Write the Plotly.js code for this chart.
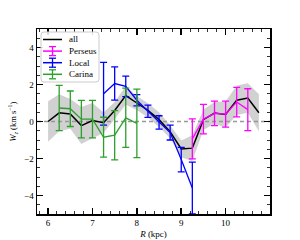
<!DOCTYPE html>
<html><head><meta charset="utf-8">
<script src="https://cdn.plot.ly/plotly-3.0.1.min.js"></script>
<style>html,body{margin:0;padding:0;background:#fff}#c{width:300px;height:240px}</style>
</head><body><div id="c"></div>
<script>
const allR = [6.0,6.25,6.5,6.75,7.0,7.25,7.5,7.75,8.0,8.25,8.5,8.75,9.0,9.25,9.5,9.75,10.0,10.25,10.5,10.75];
const allW = [0.0,0.47,0.41,-0.22,0.05,-0.07,0.6,1.4,1.0,0.6,0.1,-0.55,-1.48,-1.44,0.1,0.46,0.38,1.15,1.27,0.47];
const allSd = [1.1,1.0,0.8,1.0,0.95,0.55,0.45,0.5,0.38,0.38,0.4,0.35,0.45,0.7,0.55,0.6,0.7,0.8,0.8,1.0];

const perseusR = [9.25,9.5,9.75,10.0,10.25,10.5];
const perseusW = [-0.94,0.13,0.44,0.4,1.05,0.64];
const perseusErr = [1.08,0.8,0.66,0.7,0.8,1.13];

const localR = [7.25,7.5,7.75,8.0,8.25,8.5,8.75,9.0,9.25];
const localW = [1.5,2.05,1.9,1.15,0.55,-0.05,-0.6,-2.06,-3.6];
const localErr = [1.7,0.9,0.55,0.3,0.33,0.36,0.4,0.66,1.4];

const carinaR = [6.25,6.5,6.75,7.0,7.25,7.5,7.75,8.0];
const carinaW = [0.73,0.69,0.13,0.13,-0.85,-0.74,0.2,-0.1];
const carinaErr = [1.22,0.96,1.01,1.01,1.08,1.33,1.6,1.85];

const legendNames = ['all','Perseus','Local','Carina'];
const legendColors = ['black','#ff00ff','#0000ff','#2ca02c'];
const legendHasErr = [false,true,true,true];

const upper = allW.map((v,i)=>v+allSd[i]);
const lower = allW.map((v,i)=>v-allSd[i]);
const bandX = allR.concat(allR.slice().reverse());
const bandY = upper.concat(lower.slice().reverse());

const serif = "Liberation Serif, DejaVu Serif, serif";
function errTrace(name, x, y, e, col){
  return {x:x, y:y, name:name, type:'scatter', mode:'lines', showlegend:false,
    line:{color:col, width:1.3},
    error_y:{type:'data', array:e, visible:true, color:col, thickness:1.3, width:3.5}};
}
const traces = [
  {x:bandX, y:bandY, type:'scatter', mode:'lines', fill:'toself', fillcolor:'rgba(190,190,190,0.7)',
   line:{width:0}, showlegend:false, hoverinfo:'skip'},
  {x:[5.75,11.0], y:[0,0], type:'scatter', mode:'lines', line:{color:'#999', width:1.3, dash:'4px,3px'}, showlegend:false},
  {x:allR, y:allW, name:'all', type:'scatter', mode:'lines', showlegend:false, line:{color:'black', width:1.5}},
  errTrace('Perseus', perseusR, perseusW, perseusErr, legendColors[1]),
  errTrace('Local', localR, localW, localErr, legendColors[2]),
  errTrace('Carina', carinaR, carinaW, carinaErr, legendColors[3])
];

// custom compact legend (matplotlib style) in plot-area paper coords
const L=37, T=29, PW=233, PH=185;
const px = x => (x-L)/PW, py = y => (T+PH-y)/PH;
const shapes = [];
const annotations = [];
const bx0=41, bx1=99, by0=32, by1=82, r=3;
shapes.push({type:'path', xref:'paper', yref:'paper', layer:'above',
  path:`M${px(bx0+r)},${py(by0)} L${px(bx1-r)},${py(by0)} Q${px(bx1)},${py(by0)} ${px(bx1)},${py(by0+r)} L${px(bx1)},${py(by1-r)} Q${px(bx1)},${py(by1)} ${px(bx1-r)},${py(by1)} L${px(bx0+r)},${py(by1)} Q${px(bx0)},${py(by1)} ${px(bx0)},${py(by1-r)} L${px(bx0)},${py(by0+r)} Q${px(bx0)},${py(by0)} ${px(bx0+r)},${py(by0)} Z`,
  fillcolor:'rgba(255,255,255,0.85)', line:{color:'#cccccc', width:1}});
legendNames.forEach((n,i)=>{
  const yc = 39.5 + i*11.6;
  const col = legendColors[i];
  shapes.push({type:'line', xref:'paper', yref:'paper', layer:'above', x0:px(43), x1:px(62), y0:py(yc), y1:py(yc), line:{color:col, width:1.5}});
  if (legendHasErr[i]) {
    shapes.push({type:'line', xref:'paper', yref:'paper', layer:'above', x0:px(52.5), x1:px(52.5), y0:py(yc-4.5), y1:py(yc+4.5), line:{color:col, width:1.3}});
    shapes.push({type:'line', xref:'paper', yref:'paper', layer:'above', x0:px(49), x1:px(56), y0:py(yc-4.5), y1:py(yc-4.5), line:{color:col, width:1.3}});
    shapes.push({type:'line', xref:'paper', yref:'paper', layer:'above', x0:px(49), x1:px(56), y0:py(yc+4.5), y1:py(yc+4.5), line:{color:col, width:1.3}});
  }
  annotations.push({text:n, xref:'paper', yref:'paper', x:px(67), y:py(yc), xanchor:'left', yanchor:'middle',
    showarrow:false, font:{family:serif, size:9, color:'black'}});
});

const axBase = {
  showgrid:false, zeroline:false, showline:true, linecolor:'black', linewidth:1.5, mirror:'allticks',
  ticks:'inside', ticklen:6, tickwidth:1.6, tickcolor:'black',
  tickfont:{family:serif, size:9, color:'black'}
};
const layout = {
  width:300, height:240, margin:{l:37, r:30, t:29, b:26},
  paper_bgcolor:'white', plot_bgcolor:'white',
  showlegend:false, shapes:shapes, annotations:annotations,
  xaxis:Object.assign({}, axBase, {range:[5.75,11.0], tickvals:[6,7,8,9,10],
    minor:{dtick:0.2, ticks:'inside', ticklen:3, tickwidth:0.8, tickcolor:'black'},
    title:{text:'<i>R</i> (kpc)', font:{family:serif, size:9, color:'black'}, standoff:3}}),
  yaxis:Object.assign({}, axBase, {range:[-5,5], tickvals:[-4,-2,0,2,4], ticktext:['\u22124','\u22122','0','2','4'],
    minor:{dtick:0.5, ticks:'inside', ticklen:3, tickwidth:0.8, tickcolor:'black'},
    title:{text:'<i>W<sub>z</sub></i> (km s<sup>\u22121</sup>)', font:{family:serif, size:8.5, color:'black'}, standoff:6}})
};
Plotly.newPlot('c', traces, layout, {staticPlot:true, displayModeBar:false});
</script></body></html>
